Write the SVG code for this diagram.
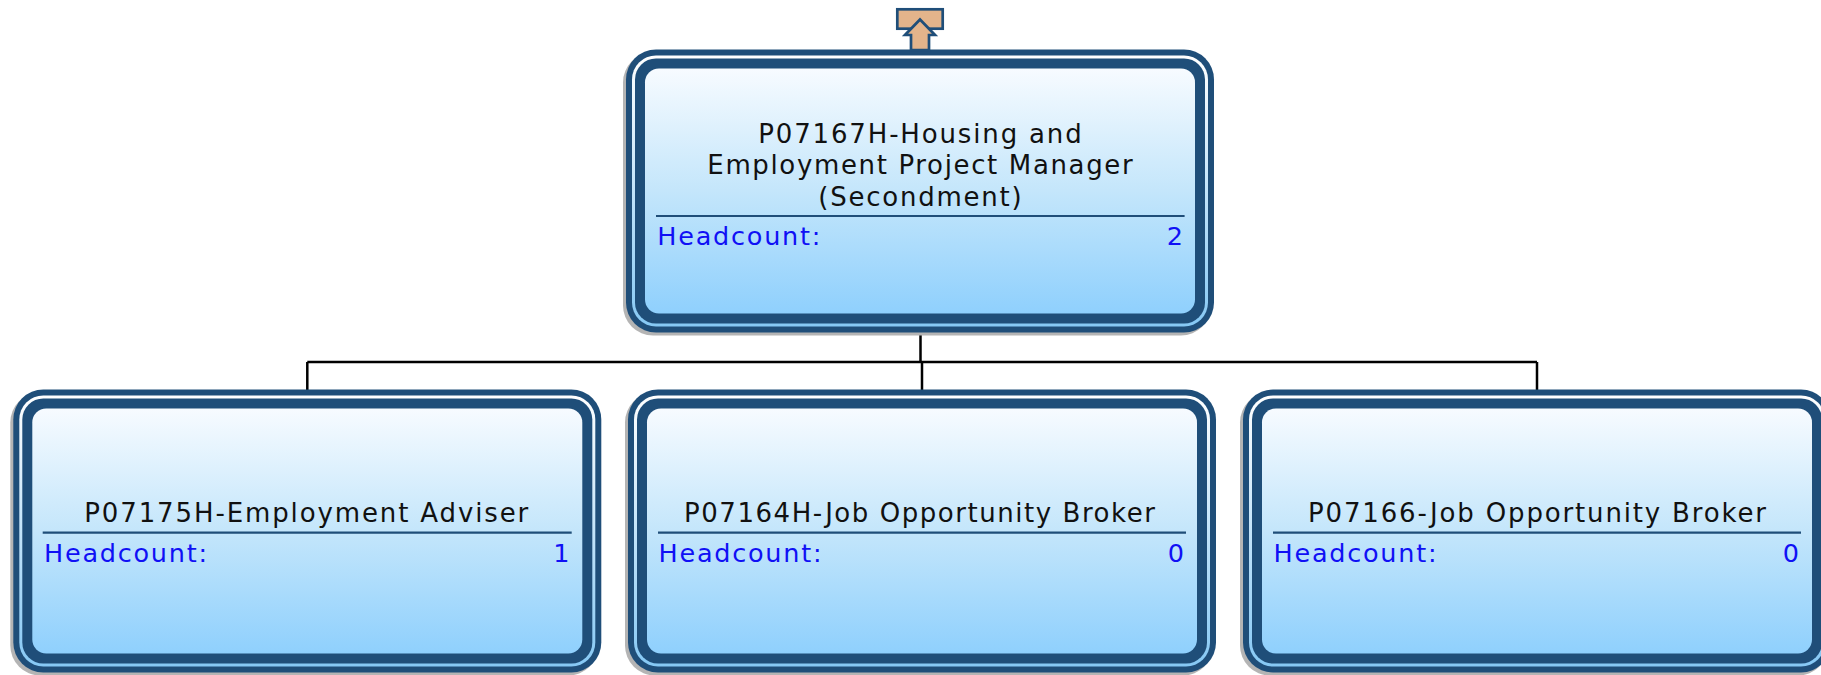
<svg xmlns="http://www.w3.org/2000/svg" width="1821" height="675" viewBox="0 0 1821 675">
<defs>
<linearGradient id="bg" x1="0" y1="0" x2="0" y2="1">
<stop offset="0" stop-color="#f7fbff"/>
<stop offset="0.5" stop-color="#c4e6fb"/>
<stop offset="1" stop-color="#8fd0fd"/>
</linearGradient>
<linearGradient id="ring" x1="0" y1="0" x2="0" y2="1">
<stop offset="0" stop-color="#ffffff"/>
<stop offset="1" stop-color="#86c8f4"/>
</linearGradient>
<style>
.shadow{fill:#b4b4b4}
.dark{fill:#1f4e79}
.ring{fill:url(#ring)}
.bg{fill:url(#bg)}
.sep{stroke:#1f4e79;stroke-width:2.2}
.title{font-family:"DejaVu Sans","Verdana",sans-serif;font-size:26px;fill:#111}
.hc{font-family:"DejaVu Sans","Verdana",sans-serif;font-size:25.5px;fill:#1010f5}
.conn{stroke:#000;stroke-width:2.5;fill:none}
</style>
</defs>
<rect width="1821" height="675" fill="#fff"/>
<g id="connectors">
<path class="conn" d="M920.5 332 V362 M307.3 362 H1537 M307.3 362 V390 M922 362 V390 M1537 362 V390"/>
</g>
<g id="node-top">
<rect class="shadow" x="623" y="52.5" width="588" height="283" rx="30"/>
<rect class="dark" x="626" y="49.5" width="588" height="283" rx="30"/>
<rect class="ring" x="632" y="55.5" width="576" height="271" rx="24"/>
<rect class="dark" x="635" y="58.5" width="570" height="265" rx="21"/>
<rect class="bg" x="645" y="68.5" width="550" height="245" rx="14"/>
<text class="title" x="758.3" y="142.6" textLength="323.4" lengthAdjust="spacing">P07167H-Housing and</text>
<text class="title" x="707.3" y="174.3" textLength="425.4" lengthAdjust="spacing">Employment Project Manager</text>
<text class="title" x="818.3" y="206" textLength="203.4" lengthAdjust="spacing">(Secondment)</text>
<line class="sep" x1="656" y1="216" x2="1184.6" y2="216"/>
<text class="hc" x="657.3" y="245" textLength="163" lengthAdjust="spacing">Headcount:</text>
<text class="hc" x="1183" y="245" text-anchor="end">2</text>
</g>
<g id="node-left">
<rect class="shadow" x="10.3" y="392.5" width="588" height="283" rx="30"/>
<rect class="dark" x="13.3" y="389.5" width="588" height="283" rx="30"/>
<rect class="ring" x="19.3" y="395.5" width="576" height="271" rx="24"/>
<rect class="dark" x="22.3" y="398.5" width="570" height="265" rx="21"/>
<rect class="bg" x="32.3" y="408.5" width="550" height="245" rx="14"/>
<text class="title" x="84.3" y="522.3" textLength="444" lengthAdjust="spacing">P07175H-Employment Adviser</text>
<line class="sep" x1="42.7" y1="532.7" x2="571.7" y2="532.7"/>
<text class="hc" x="44" y="561.7" textLength="163" lengthAdjust="spacing">Headcount:</text>
<text class="hc" x="569.5" y="561.7" text-anchor="end">1</text>
</g>
<g id="node-mid">
<rect class="shadow" x="625" y="392.5" width="588" height="283" rx="30"/>
<rect class="dark" x="628" y="389.5" width="588" height="283" rx="30"/>
<rect class="ring" x="634" y="395.5" width="576" height="271" rx="24"/>
<rect class="dark" x="637" y="398.5" width="570" height="265" rx="21"/>
<rect class="bg" x="647" y="408.5" width="550" height="245" rx="14"/>
<text class="title" x="684" y="522.3" textLength="471" lengthAdjust="spacing">P07164H-Job Opportunity Broker</text>
<line class="sep" x1="658" y1="532.7" x2="1186" y2="532.7"/>
<text class="hc" x="658.5" y="561.7" textLength="163" lengthAdjust="spacing">Headcount:</text>
<text class="hc" x="1184" y="561.7" text-anchor="end">0</text>
</g>
<g id="node-right">
<rect class="shadow" x="1240" y="392.5" width="588" height="283" rx="30"/>
<rect class="dark" x="1243" y="389.5" width="588" height="283" rx="30"/>
<rect class="ring" x="1249" y="395.5" width="576" height="271" rx="24"/>
<rect class="dark" x="1252" y="398.5" width="570" height="265" rx="21"/>
<rect class="bg" x="1262" y="408.5" width="550" height="245" rx="14"/>
<text class="title" x="1308" y="522.3" textLength="458" lengthAdjust="spacing">P07166-Job Opportunity Broker</text>
<line class="sep" x1="1273" y1="532.7" x2="1801" y2="532.7"/>
<text class="hc" x="1273.5" y="561.7" textLength="163" lengthAdjust="spacing">Headcount:</text>
<text class="hc" x="1799" y="561.7" text-anchor="end">0</text>
</g>
<g id="expand-icon">
<rect x="897.3" y="9.3" width="45.4" height="19.4" fill="#e3b48b" stroke="#1f4e79" stroke-width="2.7"/>
<polygon points="920,19.5 935,35 929,35 929,50 911,50 911,35 905,35" fill="#e3b48b" stroke="#1f4e79" stroke-width="2.7" stroke-linejoin="miter"/>
</g>
</svg>
